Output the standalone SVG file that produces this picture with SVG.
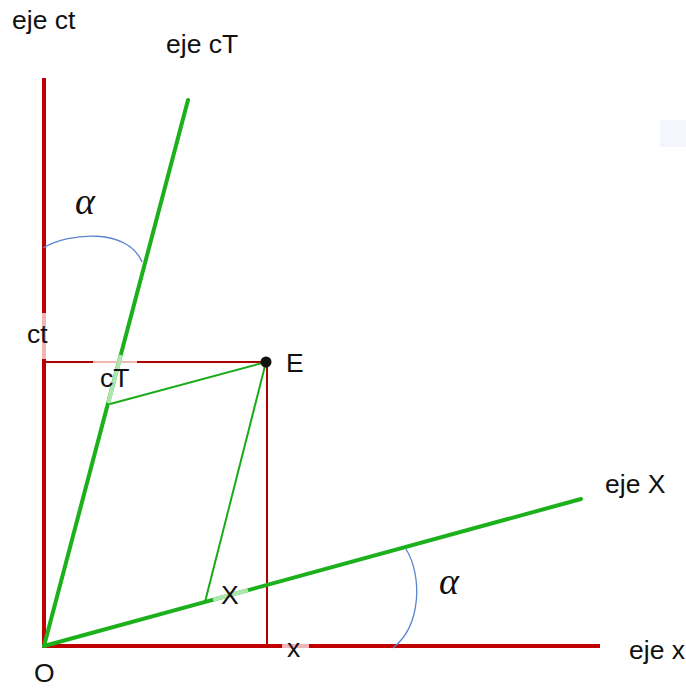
<svg xmlns="http://www.w3.org/2000/svg" width="686" height="688" viewBox="0 0 686 688">
<style>
.t{font-family:"Liberation Sans",Arial,sans-serif;font-size:26.5px;fill:#111}
.g{font-family:"Liberation Serif","DejaVu Serif",serif;font-style:italic;font-size:38px;fill:#111}
.ax{stroke:#c00000;stroke-width:4;fill:none}
.rl{stroke:#b00000;stroke-width:2;fill:none}
.gr{stroke:#1cb01c;stroke-width:4;fill:none;stroke-linecap:round}
.gt{stroke:#1aaa1a;stroke-width:2;fill:none}
.arc{stroke:#5b84d0;stroke-width:1.3;fill:none}
</style>
<rect width="686" height="688" fill="#fff"/>
<rect x="660" y="120" width="26" height="27" fill="#f3f7fd"/>
<g id="connectors">
<line class="ax" x1="44" y1="78" x2="44" y2="648"/>
<line class="ax" x1="42" y1="646" x2="600" y2="646"/>
<line class="rl" x1="44" y1="362" x2="266" y2="362"/>
<line class="rl" x1="267" y1="362" x2="267" y2="646"/>
<line class="gt" x1="266" y1="362" x2="110" y2="404"/>
<line class="gt" x1="266" y1="362" x2="205" y2="602"/>
<line class="gr" x1="44" y1="646" x2="188" y2="100"/>
<line class="gr" x1="44" y1="646" x2="581" y2="499"/>
<line stroke="#f3b4b4" stroke-width="4" x1="44" y1="313" x2="44" y2="359"/>
<line stroke="#f3b4b4" stroke-width="2" x1="93" y1="362" x2="137" y2="362"/>
<line stroke="#f3b4b4" stroke-width="4" x1="282" y1="646" x2="309" y2="646"/>
<line stroke="#aee6ae" stroke-width="4" x1="120.9" y1="355" x2="108.2" y2="403"/>
<line stroke="#aee6ae" stroke-width="4" x1="213" y1="599.7" x2="248" y2="590.1"/>
<path class="arc" d="M43,248 C70,232 128,228 142,262"/>
<path class="arc" d="M406,549 C422,575 422,625 393,648"/>
</g>
<g id="E"><circle cx="266" cy="362" r="5.5" fill="#111"/><text class="t" x="286" y="372">E</text></g>
<g id="O"><text class="t" x="34" y="682">O</text></g>
<g id="eje-ct"><text class="t" x="12" y="29">eje ct</text></g>
<g id="eje-cT"><text class="t" x="166" y="53">eje cT</text></g>
<g id="eje-X"><text class="t" x="605" y="493">eje X</text></g>
<g id="eje-x"><text class="t" x="629" y="659">eje x</text></g>
<g id="ct"><text class="t" x="27" y="343">ct</text></g>
<g id="cT"><text class="t" x="100" y="387">cT</text></g>
<g id="X"><text class="t" x="221" y="604">X</text></g>
<g id="x"><text class="t" x="287" y="657">x</text></g>
<g id="alpha1"><text class="g" x="75" y="214">α</text></g>
<g id="alpha2"><text class="g" x="439" y="594">α</text></g>
</svg>
